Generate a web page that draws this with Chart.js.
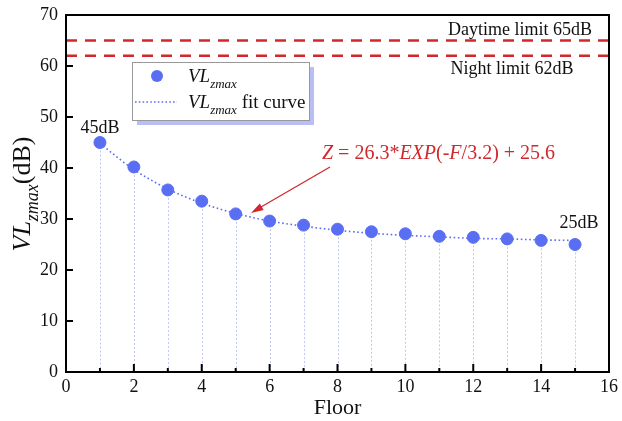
<!DOCTYPE html>
<html>
<head>
<meta charset="utf-8">
<script src="https://cdn.jsdelivr.net/npm/chart.js@4.4.0/dist/chart.umd.min.js"></script>
<style>
  html, body { margin: 0; padding: 0; background: #fff; }
  #wrap { width: 622px; height: 421px; }
</style>
</head>
<body>
<div id="wrap"><canvas id="myChart" width="622" height="421"></canvas></div>
<script>
// floors and measured maximum vibration level
const floors = [1, 2, 3, 4, 5, 6, 7, 8, 9, 10, 11, 12, 13, 14, 15];
const vlzmax = [45, 40.2, 35.7, 33.5, 31, 29.6, 28.8, 28, 27.5, 27.1, 26.6, 26.4, 26.1, 25.8, 25];
// fit curve read at each floor
const fitCurve = [44.8, 39.7, 35.9, 33.1, 31.1, 29.6, 28.6, 27.8, 27.2, 26.8, 26.5, 26.2, 26.1, 25.9, 25.8];
const dayLimit = 65;
const nightLimit = 62;
const yTicks = [0, 10, 20, 30, 40, 50, 60, 70];
const xTicks = [0, 2, 4, 6, 8, 10, 12, 14, 16];

const serif = "'Liberation Serif', 'DejaVu Serif', serif";
const blue = "#5a6ef3";
const red = "#d0282c";

function pts(xs, ys) {
  return xs.map((x, i) => ({ x: x, y: ys[i] }));
}

// draws text with a subscript, returns end x
function subText(ctx, x, y, main, sub, size, italic) {
  const st = italic ? "italic " : "";
  ctx.font = st + size + "px " + serif;
  ctx.fillText(main, x, y);
  x += ctx.measureText(main).width;
  ctx.font = st + Math.round(size * 0.7) + "px " + serif;
  ctx.fillText(sub, x, y + size * 0.3);
  return x + ctx.measureText(sub).width;
}

const decorations = {
  id: "decorations",
  beforeDatasetsDraw(chart) {
    const ctx = chart.ctx;
    const xs = chart.scales.x, ys = chart.scales.y;
    ctx.save();
    // drop lines from each point to the floor axis
    ctx.strokeStyle = "rgba(140,150,235,0.55)";
    ctx.lineWidth = 1;
    ctx.setLineDash([2, 2]);
    floors.forEach((f, i) => {
      const px = Math.round(xs.getPixelForValue(f)) + 0.5;
      ctx.beginPath();
      ctx.moveTo(px, ys.getPixelForValue(vlzmax[i]));
      ctx.lineTo(px, ys.getPixelForValue(0));
      ctx.stroke();
    });
    // limit lines
    ctx.strokeStyle = red;
    ctx.lineWidth = 2.5;
    ctx.setLineDash([11, 8]);
    [dayLimit, nightLimit].forEach(v => {
      const py = ys.getPixelForValue(v);
      ctx.beginPath();
      ctx.moveTo(xs.getPixelForValue(0), py);
      ctx.lineTo(xs.getPixelForValue(16), py);
      ctx.stroke();
    });
    ctx.restore();
  },
  afterDraw(chart) {
    const ctx = chart.ctx;
    const xs = chart.scales.x, ys = chart.scales.y;
    const a = chart.chartArea;
    ctx.save();
    // frame
    ctx.strokeStyle = "#000";
    ctx.lineWidth = 2;
    ctx.strokeRect(a.left, a.top, a.right - a.left, a.bottom - a.top);
    // inward ticks
    ctx.lineWidth = 2;
    yTicks.forEach(v => {
      const py = ys.getPixelForValue(v);
      ctx.beginPath();
      ctx.moveTo(a.left, py);
      ctx.lineTo(a.left + 7, py);
      ctx.stroke();
    });
    for (let f = 1; f < 16; f++) {
      const px = xs.getPixelForValue(f);
      ctx.beginPath();
      ctx.moveTo(px, a.bottom);
      ctx.lineTo(px, a.bottom - (f % 2 === 0 ? 8 : 4));
      ctx.stroke();
    }

    // limit labels
    ctx.fillStyle = "#111";
    ctx.textAlign = "center";
    ctx.textBaseline = "alphabetic";
    ctx.font = "18px " + serif;
    ctx.fillText("Daytime limit " + dayLimit + "dB", 520, ys.getPixelForValue(dayLimit) - 6);
    ctx.fillText("Night limit " + nightLimit + "dB", 512, ys.getPixelForValue(nightLimit) + 18);

    // end point labels
    ctx.font = "18px " + serif;
    ctx.fillText(vlzmax[0] + "dB", xs.getPixelForValue(floors[0]), ys.getPixelForValue(vlzmax[0]) - 10);
    const last = floors.length - 1;
    ctx.fillText(vlzmax[last] + "dB", xs.getPixelForValue(floors[last]) + 4, ys.getPixelForValue(vlzmax[last]) - 17);

    // legend box with shadow
    const lx = 132, ly = 62, lw = 177, lh = 58;
    ctx.fillStyle = "#b9bff4";
    ctx.fillRect(lx + 5, ly + 5, lw, lh);
    ctx.fillStyle = "#fff";
    ctx.fillRect(lx, ly, lw, lh);
    ctx.strokeStyle = "#999";
    ctx.lineWidth = 1;
    ctx.strokeRect(lx + 0.5, ly + 0.5, lw, lh);
    ctx.fillStyle = blue;
    ctx.beginPath();
    ctx.arc(157, 76, 6, 0, Math.PI * 2);
    ctx.fill();
    ctx.strokeStyle = blue;
    ctx.lineWidth = 1.6;
    ctx.setLineDash([1.6, 2.2]);
    ctx.beginPath();
    ctx.moveTo(135, 102);
    ctx.lineTo(177, 102);
    ctx.stroke();
    ctx.setLineDash([]);
    ctx.fillStyle = "#111";
    ctx.textAlign = "left";
    subText(ctx, 188, 82, "VL", "zmax", 19, true);
    let ex = subText(ctx, 188, 108, "VL", "zmax", 19, true);
    ctx.font = "19px " + serif;
    ctx.fillText(" fit curve", ex, 108);

    // fit equation
    ctx.fillStyle = red;
    let tx = 322;
    const ty = 159;
    const parts = [["Z", true], [" = 26.3", false], ["*", false], ["EXP", true], ["(-", false], ["F", true], ["/3.2) + 25.6", false]];
    parts.forEach(p => {
      ctx.font = (p[1] ? "italic " : "") + "20px " + serif;
      ctx.fillText(p[0], tx, ty);
      tx += ctx.measureText(p[0]).width;
    });
    // arrow to the curve
    const x0 = 330, y0 = 167, x1 = 251, y1 = 213;
    ctx.strokeStyle = red;
    ctx.lineWidth = 1.3;
    ctx.beginPath();
    ctx.moveTo(x0, y0);
    ctx.lineTo(x1 + 10, y1 - 6);
    ctx.stroke();
    const ang = Math.atan2(y1 - y0, x1 - x0);
    ctx.beginPath();
    ctx.moveTo(x1, y1);
    ctx.lineTo(x1 - 13 * Math.cos(ang - 0.3), y1 - 13 * Math.sin(ang - 0.3));
    ctx.lineTo(x1 - 13 * Math.cos(ang + 0.3), y1 - 13 * Math.sin(ang + 0.3));
    ctx.closePath();
    ctx.fillStyle = red;
    ctx.fill();

    // y axis title
    ctx.translate(30, 194);
    ctx.rotate(-Math.PI / 2);
    ctx.fillStyle = "#111";
    ctx.font = "italic 26px " + serif;
    const w1 = ctx.measureText("VL").width;
    ctx.font = "italic 18px " + serif;
    const w2 = ctx.measureText("zmax").width;
    ctx.font = "26px " + serif;
    const w3 = ctx.measureText("(dB)").width;
    let sx = -(w1 + w2 + w3) / 2;
    sx = subText(ctx, sx, 0, "VL", "zmax", 26, true);
    ctx.font = "26px " + serif;
    ctx.fillText("(dB)", sx, 0);
    ctx.restore();
  }
};

const ctx = document.getElementById("myChart").getContext("2d");
const config = {
  type: "scatter",
  data: {
    datasets: [
      {
        label: "VLzmax",
        data: pts(floors, vlzmax),
        backgroundColor: blue,
        borderColor: blue,
        pointRadius: 6,
        pointHoverRadius: 6,
        showLine: false,
        order: 1
      },
      {
        label: "VLzmax fit curve",
        data: pts(floors, fitCurve),
        borderColor: blue,
        borderWidth: 1.6,
        borderDash: [1.6, 2.6],
        pointRadius: 0,
        showLine: true,
        cubicInterpolationMode: "monotone",
        order: 2
      }
    ]
  },
  options: {
    responsive: false,
    animation: false,
    layout: { padding: { left: 0, top: 15, right: 9, bottom: 0 } },
    plugins: { legend: { display: false }, tooltip: { enabled: false } },
    scales: {
      x: {
        type: "linear",
        min: 0,
        max: 16,
        afterBuildTicks: s => { s.ticks = xTicks.map(v => ({ value: v })); },
        grid: { display: false, drawTicks: false },
        border: { display: false },
        ticks: { color: "#111", font: { family: serif, size: 18 }, padding: 4, maxRotation: 0 },
        title: { display: true, text: "Floor", color: "#111", font: { family: serif, size: 22 }, padding: { top: -6, bottom: 0 } },
        afterFit: s => { s.height = 49; }
      },
      y: {
        min: 0,
        max: 70,
        afterBuildTicks: s => { s.ticks = yTicks.map(v => ({ value: v })); },
        grid: { display: false, drawTicks: false },
        border: { display: false },
        ticks: { color: "#111", font: { family: serif, size: 18 }, padding: 8 },
        afterFit: s => { s.width = 66; s.paddingTop = 0; s.paddingBottom = 0; }
      }
    }
  },
  plugins: [decorations]
};
new Chart(ctx, config);
</script>
</body>
</html>
